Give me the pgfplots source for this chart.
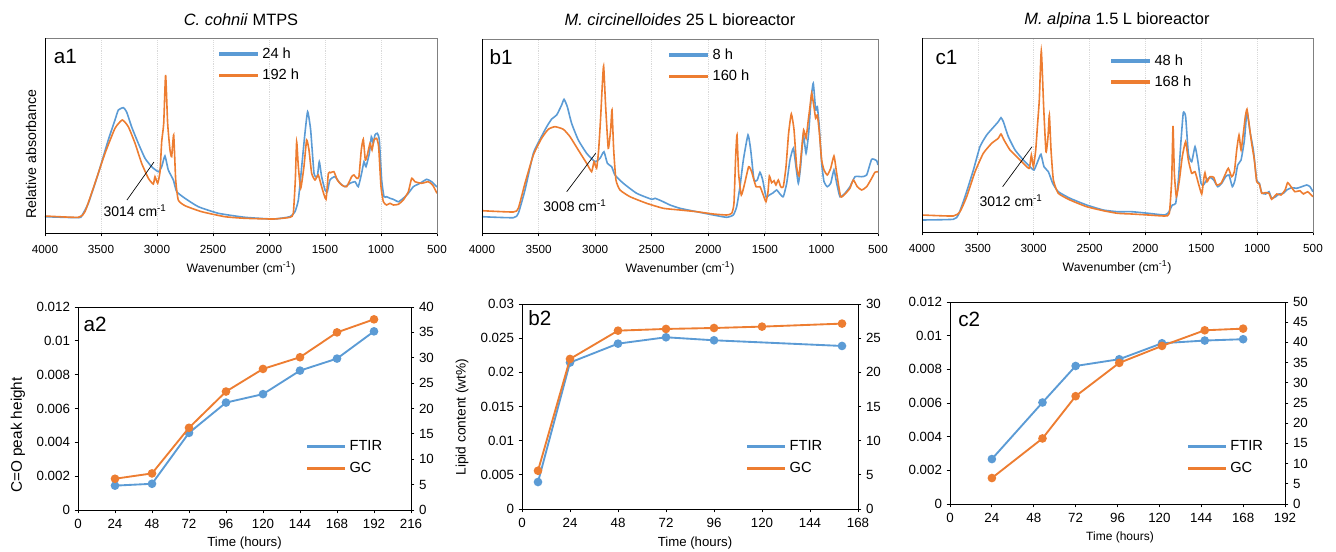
\documentclass[border=0pt]{standalone}
\usepackage{fontspec}
\setmainfont{Liberation Sans}
\usepackage{pgfplots}
\pgfplotsset{compat=1.18}
\definecolor{fb}{RGB}{91,155,213}
\definecolor{fo}{RGB}{237,125,49}
\newcommand{\fs}{\fontsize{8.8}{10}\selectfont}
\newcommand{\fl}{\fontsize{10}{12}\selectfont}
\newcommand{\fleg}{\fontsize{11}{13}\selectfont}
\pgfplotsset{
 spec/.style={scale only axis, x dir=reverse, xmin=500, xmax=4000, ymin=0,
  xtick={500,1000,...,4000}, ytick=\empty, xtick pos=bottom,
  axis line style={black!50, line width=0.6pt},
  xmajorgrids, grid style={black!15, densely dotted, line width=0.5pt},
  tick align=outside, major tick length=2.5pt, tick style={black, line width=0.6pt},
  tick label style={font=\fs}, xticklabel shift=3pt,
  /pgf/number format/assume math mode=true, /pgf/number format/1000 sep={},
  legend cell align=left,
  legend style={draw=none, fill=none, font=\fleg, inner sep=0pt, row sep=4.5pt, nodes={inner sep=1pt}, anchor=north west, yshift=4.5pt, xshift=-1pt, /tikz/every odd column/.append style={column sep=2.5pt}},
  legend image code/.code={\fill[##1] (0pt,-0.65pt) rectangle (28pt,0.65pt);},
  every axis plot/.append style={line width=1.2pt, smooth, tension=0.3},
 },
 tl/.style={scale only axis, xmin=0, ymin=0, scaled y ticks=false,
  axis line style={black, line width=0.6pt}, xtick pos=bottom, ytick pos=left,
  tick align=outside, major tick length=2.5pt, tick style={black, line width=0.6pt},
  tick label style={font=\fl}, xticklabel shift=1pt,
  /pgf/number format/assume math mode=true, /pgf/number format/1000 sep={},
 },
 tr/.style={scale only axis, xmin=0, ymin=0, axis x line=none, axis y line*=right,
  axis line style={black, line width=0.6pt, -},
  tick align=outside, major tick length=2.5pt, tick style={black, line width=0.6pt},
  tick label style={font=\fl},
  /pgf/number format/assume math mode=true, /pgf/number format/1000 sep={},
  legend cell align=left,
  legend style={draw=none, fill=none, font=\fleg, inner sep=0pt, row sep=5pt, nodes={inner sep=1pt}, anchor=north west, yshift=4.5pt, xshift=-1pt, /tikz/every odd column/.append style={column sep=2.5pt}},
  legend image code/.code={\fill[##1] (0pt,-0.7pt) rectangle (28pt,0.7pt);},
 },
 pb/.style={fb, line width=1.4pt, mark=*, mark size=2.5pt, mark options={solid, fill=fb, draw=fb}},
 po/.style={fo, line width=1.4pt, mark=*, mark size=2.5pt, mark options={solid, fill=fo, draw=fo}},
}
\begin{document}
\begin{tikzpicture}
\useasboundingbox (0,0) rectangle (1002pt,413.25pt);

% ---------------- a1 ----------------
\begin{axis}[spec, at={(33.75pt,238.5pt)}, anchor=south west, width=294pt, height=146.25pt, ymax=195,
  legend style={at={(axis description cs:0.446,0.928)}}]
\addlegendimage{fb}
\addlegendentry{24 h}
\addlegendimage{fo}
\addlegendentry{192 h}
\addplot[fb, forget plot] coordinates {(4000,16.3)(3702,15.3)(3673,17)(3613,29.7)(3524,59.7)(3435,93)(3375,113)(3345,123)(3300,125.3)(3271,121)(3226,106)(3167,89.7)(3107,74.7)(3048,66.3)(2988,61.3)(2958,66.3)(2929,77)(2899,63)(2854,53)(2824,41.3)(2750,34.7)(2631,26.3)(2452,19.7)(2214,15.7)(1961,14)(1813,16.3)(1768,21.3)(1738,33)(1708,66.3)(1679,99.7)(1655,121.3)(1628,103)(1598,59.7)(1569,56.3)(1551,71.3)(1530,56.3)(1500,43)(1479,41.3)(1456,53)(1411,56.3)(1366,49.7)(1322,46.3)(1277,49.7)(1232,51.3)(1203,46.3)(1173,59.7)(1152,71.3)(1134,66.3)(1104,79.7)(1086,96.3)(1069,89.7)(1054,98)(1033,99.7)(1015,93)(994,53)(973,36.3)(950,36.3)(920,34.7)(890,33.7)(845,31.3)(801,34.7)(756,39.7)(711,46.3)(652,49.7)(592,53.7)(548,51.3)(500,46)};
\addplot[fo, forget plot] coordinates {(4000,17)(3702,15.7)(3643,21.3)(3554,49.7)(3464,79.7)(3375,104.7)(3310,113)(3256,106.3)(3196,89.7)(3137,69.7)(3077,54.7)(3033,49)(3018,56.3)(2994,49.7)(2973,61.3)(2958,91.3)(2940,109.7)(2923,158)(2905,109.7)(2884,83)(2869,76.3)(2851,98)(2833,53)(2810,33)(2750,27.3)(2601,21.3)(2393,16.3)(2214,14.7)(1961,14)(1813,15.7)(1783,19.7)(1765,53)(1753,91.3)(1738,66.3)(1717,44.7)(1688,66.3)(1664,93)(1643,83)(1619,59.7)(1589,53)(1560,58)(1530,46.3)(1491,33.7)(1470,59.7)(1450,60.3)(1420,61.3)(1390,53)(1351,48)(1307,46.3)(1262,56.3)(1241,58)(1217,54.7)(1197,56.3)(1176,83)(1158,93.7)(1140,73)(1122,78)(1098,89.7)(1080,83)(1063,93)(1039,94.7)(1021,86.3)(1000,46.3)(979,31.3)(950,28)(920,29.7)(890,28)(845,28.7)(801,33)(756,41.3)(726,54.7)(697,51.3)(637,49.7)(578,51.3)(539,48)(500,39.7)};
\draw[black, line width=0.6pt] (rel axis cs:0,1) -- (rel axis cs:0,0) -- (rel axis cs:1,0);
\draw[black, line width=0.5pt] (axis cs:3268,33) -- (axis cs:3027,71);
\node[font=\fontsize{10.5}{12}\selectfont] at (axis cs:3196,22) {3014 cm\textsuperscript{-1}};
\node[anchor=north west, inner sep=0pt, font=\fontsize{15.5}{16}\selectfont] at ([xshift=6.5pt,yshift=-8pt]rel axis cs:0,1) {a1};
\end{axis}

% ---------------- b1 ----------------
\begin{axis}[spec, at={(361.5pt,238.5pt)}, anchor=south west, width=297pt, height=145.5pt, ymax=194,
  legend style={at={(axis description cs:0.475,0.928)}}]
\addlegendimage{fb}
\addlegendentry{8 h}
\addlegendimage{fo}
\addlegendentry{160 h}
\addplot[fb, forget plot] coordinates {(4000,16.3)(3723,15.3)(3679,19.7)(3620,43)(3546,79.7)(3487,93.7)(3428,106.3)(3384,114)(3340,118)(3296,128)(3275,133.7)(3246,126.3)(3208,109.7)(3149,93)(3075,79.7)(3001,71.3)(2957,74.7)(2922,81.3)(2892,69.7)(2854,66.3)(2825,58)(2751,49.7)(2633,39.7)(2500,33.7)(2471,34.7)(2412,32)(2338,28)(2250,24.7)(2103,21.3)(1955,18)(1838,15.7)(1779,18)(1749,26.3)(1720,46.3)(1690,73)(1649,98)(1625,83)(1596,53)(1567,53)(1543,60.7)(1519,53)(1490,36.3)(1460,38)(1425,40.3)(1396,43)(1366,39)(1337,36.3)(1307,49.7)(1278,73)(1248,84.7)(1225,66.3)(1204,49.7)(1184,66.3)(1160,98)(1136,79.7)(1113,99.7)(1092,133)(1072,149.7)(1051,123)(1036,126.3)(1019,106.3)(998,69.7)(977,51.3)(948,46.3)(918,49.7)(889,63)(865,49.7)(836,36.3)(792,39.7)(748,46.3)(703,56.3)(644,56.3)(600,58)(556,73.7)(512,72.3)(500,68)};
\addplot[fo, forget plot] coordinates {(4000,22.3)(3723,21)(3679,24.7)(3620,49.7)(3546,78)(3473,94.7)(3414,103.7)(3355,106.3)(3281,103.7)(3222,96.3)(3149,83)(3075,69.7)(3031,61.3)(3010,71.3)(2987,64.7)(2969,83)(2951,116.3)(2939,143)(2925,167)(2907,126.3)(2884,84.7)(2863,103)(2851,123)(2836,83)(2816,53)(2780,43)(2692,36.3)(2545,29.7)(2397,24.7)(2250,23)(2103,21.3)(1955,19)(1838,18)(1793,19.7)(1773,29.7)(1758,76.3)(1746,98)(1732,59.7)(1708,38)(1678,49.7)(1643,66.3)(1617,61.3)(1578,46.3)(1543,46.3)(1514,38)(1490,31.3)(1472,41.3)(1460,57)(1440,50.3)(1419,52.3)(1402,48)(1381,53)(1360,46.3)(1337,46.3)(1313,66.3)(1290,99.7)(1266,119)(1242,103)(1219,66.3)(1198,57)(1178,79.7)(1157,103)(1136,94.7)(1116,113)(1101,126.3)(1086,139.7)(1066,126.3)(1051,114.7)(1036,118)(1019,101.3)(998,73)(977,63)(948,58)(918,64.7)(889,77)(865,59.7)(830,36.3)(786,39.7)(748,44.7)(718,53)(683,46.3)(644,43)(600,46.3)(556,54.7)(527,60.7)(500,61.3)};
\draw[black, line width=0.6pt] (rel axis cs:0,1) -- (rel axis cs:0,0) -- (rel axis cs:1,0);
\draw[black, line width=0.5pt] (axis cs:3251,41.3) -- (axis cs:2995,79.7);
\node[font=\fontsize{10.5}{12}\selectfont] at (axis cs:3178,27) {3008 cm\textsuperscript{-1}};
\node[anchor=north west, inner sep=0pt, font=\fontsize{15.5}{16}\selectfont] at ([xshift=5.5pt,yshift=-7.5pt]rel axis cs:0,1) {b1};
\end{axis}

% ---------------- c1 ----------------
\begin{axis}[spec, at={(691.5pt,239.25pt)}, anchor=south west, width=293.25pt, height=145.5pt, ymax=194,
  legend style={at={(axis description cs:0.486,0.892)}}]
\addlegendimage{fb}
\addlegendentry{48 h}
\addlegendimage{fo}
\addlegendentry{168 h}
\addplot[fb, forget plot] coordinates {(4000,12)(3720,12.7)(3675,17)(3615,35.3)(3540,62)(3481,85.3)(3421,97)(3361,104.7)(3317,110.3)(3293,114.3)(3272,110.3)(3227,95.3)(3167,82)(3093,72)(3033,65.3)(2997,62)(2959,72)(2935,77.7)(2908,65.3)(2869,60.3)(2830,48.7)(2780,40.3)(2675,33.7)(2526,27)(2377,22)(2250,20.3)(2123,20.3)(1974,18.7)(1825,17)(1789,20.3)(1759,27)(1729,28.7)(1705,52)(1681,92)(1661,119.3)(1640,115.3)(1616,78.7)(1586,70.3)(1556,85.3)(1532,72)(1502,48.7)(1481,47)(1452,52)(1422,54.7)(1389,52)(1353,45.3)(1317,48.7)(1282,55.3)(1252,57)(1222,45.3)(1198,52)(1174,67)(1144,72)(1114,92)(1091,120.3)(1064,100.3)(1034,82)(1004,52)(980,48.7)(959,39.3)(924,38)(894,40.3)(870,33.7)(834,35.3)(804,38)(765,38.7)(736,42)(691,44.3)(646,43.7)(601,45.3)(556,47)(527,45.3)(500,40.3)};
\addplot[fo, forget plot] coordinates {(4000,17)(3720,16)(3660,20.3)(3600,35.3)(3525,60.3)(3451,78.7)(3376,88.7)(3317,93.7)(3293,98)(3266,92)(3212,82)(3138,73.7)(3078,67)(3039,63.7)(3021,77)(3003,65.3)(2982,82)(2965,108.7)(2950,132)(2932,181.3)(2911,125.3)(2890,80.3)(2872,95.3)(2860,117)(2845,82)(2824,52)(2780,38.7)(2675,32)(2526,25.3)(2377,21.3)(2250,18.7)(2123,18)(1974,17)(1825,16)(1786,18.7)(1765,52)(1753,106)(1741,58.7)(1723,35.3)(1696,52)(1670,75.3)(1640,90.3)(1616,72)(1586,58.7)(1556,60.3)(1526,48.7)(1496,38)(1479,52)(1467,59.3)(1449,50.3)(1422,55.3)(1389,54.7)(1362,47)(1323,48.7)(1288,57)(1258,63.7)(1228,55.3)(1204,60.3)(1183,82)(1162,97)(1144,82)(1120,102)(1106,115.3)(1091,122.7)(1073,108.7)(1049,88.7)(1025,72)(1004,50.3)(980,48)(959,38.7)(930,39.3)(894,38.7)(870,32.7)(825,38)(786,37)(750,42)(727,49.3)(697,45.3)(661,40.3)(616,41.3)(586,38)(548,40.3)(500,35.3)};
\draw[black, line width=0.6pt] (rel axis cs:0,1) -- (rel axis cs:0,0) -- (rel axis cs:1,0);
\draw[black, line width=0.5pt] (axis cs:3278,45.3) -- (axis cs:3015,85.3);
\node[font=\fontsize{10.5}{12}\selectfont] at (axis cs:3203,31) {3012 cm\textsuperscript{-1}};
\node[anchor=north west, inner sep=0pt, font=\fontsize{15.5}{16}\selectfont] at ([xshift=10pt,yshift=-9pt]rel axis cs:0,1) {c1};
\end{axis}

% ---------------- a2 ----------------
\begin{axis}[tl, at={(58.5pt,30.75pt)}, anchor=south west, width=249.75pt, height=152.25pt,
  xmax=216, xtick={0,24,...,216}, ymax=0.012, ytick={0,0.002,0.004,0.006,0.008,0.01,0.012},
  yticklabels={0,0.002,0.004,0.006,0.008,0.01,0.012}]
\addplot[pb] coordinates {(24,0.00144)(48,0.00155)(72,0.00456)(96,0.00635)(120,0.00685)(144,0.00824)(168,0.00895)(192,0.01056)};
\node[anchor=north west, inner sep=0pt, font=\fontsize{15.5}{16}\selectfont] at ([xshift=4pt,yshift=-7.5pt]rel axis cs:0,1) {a2};
\end{axis}
\begin{axis}[tr, at={(58.5pt,30.75pt)}, anchor=south west, width=249.75pt, height=152.25pt,
  xmax=216, ymax=40, ytick={0,5,...,40}, legend style={at={(axis description cs:0.691,0.32)}}]
\addlegendimage{fb}
\addlegendentry{FTIR}
\addlegendimage{fo}
\addlegendentry{GC}
\addplot[po, forget plot] coordinates {(24,6.16)(48,7.21)(72,16.2)(96,23.34)(120,27.8)(144,30.1)(168,35.0)(192,37.57)};
\end{axis}

% ---------------- b2 ----------------
\begin{axis}[tl, at={(391.5pt,31.5pt)}, anchor=south west, width=252pt, height=153.75pt,
  xmax=168, xtick={0,24,...,168}, ymax=0.03, ytick={0,0.005,0.01,0.015,0.02,0.025,0.03},
  yticklabels={0,0.005,0.01,0.015,0.02,0.025,0.03}]
\addplot[pb] coordinates {(8,0.00395)(24,0.02143)(48,0.0242)(72,0.02513)(96,0.02469)(160,0.02386)};
\node[anchor=north west, inner sep=0pt, font=\fontsize{15.5}{16}\selectfont] at ([xshift=4.5pt,yshift=-4.5pt]rel axis cs:0,1) {b2};
\end{axis}
\begin{axis}[tr, at={(391.5pt,31.5pt)}, anchor=south west, width=252pt, height=153.75pt,
  xmax=168, ymax=30, ytick={0,5,...,30}, legend style={at={(axis description cs:0.673,0.312)}}]
\addlegendimage{fb}
\addlegendentry{FTIR}
\addlegendimage{fo}
\addlegendentry{GC}
\addplot[po, forget plot] coordinates {(8,5.6)(24,21.96)(48,26.1)(72,26.35)(96,26.49)(120,26.69)(160,27.13)};
\end{axis}

% ---------------- c2 ----------------
\begin{axis}[tl, at={(712.5pt,35.25pt)}, anchor=south west, width=251.25pt, height=151.5pt,
  xmax=192, xtick={0,24,...,192}, ymax=0.012, ytick={0,0.002,0.004,0.006,0.008,0.01,0.012},
  yticklabels={0,0.002,0.004,0.006,0.008,0.01,0.012}]
\addplot[pb] coordinates {(24,0.00267)(53,0.00603)(72,0.0082)(97,0.0086)(121.5,0.00955)(146,0.00971)(168,0.00979)};
\node[anchor=north west, inner sep=0pt, font=\fontsize{15.5}{16}\selectfont] at ([xshift=6pt,yshift=-7.5pt]rel axis cs:0,1) {c2};
\end{axis}
\begin{axis}[tr, at={(712.5pt,35.25pt)}, anchor=south west, width=251.25pt, height=151.5pt,
  xmax=192, ymax=50, ytick={0,5,...,50}, legend style={at={(axis description cs:0.713,0.292)}}]
\addlegendimage{fb}
\addlegendentry{FTIR}
\addlegendimage{fo}
\addlegendentry{GC}
\addplot[po, forget plot] coordinates {(24,6.43)(53,16.23)(72,26.69)(97,34.93)(121.5,39.13)(146,43.0)(168,43.41)};
\end{axis}

% ---------------- titles and labels ----------------
\node[font=\fontsize{12.3}{14}\selectfont] at (180.75pt,398.25pt) {\textit{C. cohnii} MTPS};
\node[font=\fontsize{12.3}{14}\selectfont] at (510pt,398.25pt) {\textit{M. circinelloides} 25 L bioreactor};
\node[font=\fontsize{12.3}{14}\selectfont] at (837.75pt,398.25pt) {\textit{M. alpina} 1.5 L bioreactor};
\node[font=\fontsize{9.2}{11}\selectfont] at (180.75pt,212.25pt) {Wavenumber (cm\textsuperscript{-1})};
\node[font=\fontsize{9.2}{11}\selectfont] at (510pt,212.25pt) {Wavenumber (cm\textsuperscript{-1})};
\node[font=\fontsize{9.2}{11}\selectfont] at (837.75pt,213pt) {Wavenumber (cm\textsuperscript{-1})};
\node[font=\fontsize{10.6}{12}\selectfont, rotate=90] at (23.25pt,297.75pt) {Relative absorbance};
\node[font=\fontsize{11.5}{13}\selectfont, rotate=90] at (13.5pt,87pt) {C=O peak height};
\node[font=\fontsize{10.3}{12}\selectfont, rotate=90] at (346.5pt,100.5pt) {Lipid content (wt\%)};
\node[font=\fontsize{9.9}{11}\selectfont] at (183.4pt,6pt) {Time (hours)};
\node[font=\fontsize{9.9}{11}\selectfont] at (521.25pt,6pt) {Time (hours)};
\node[font=\fontsize{9}{10}\selectfont] at (840pt,10.5pt) {Time (hours)};
\end{tikzpicture}
\end{document}
